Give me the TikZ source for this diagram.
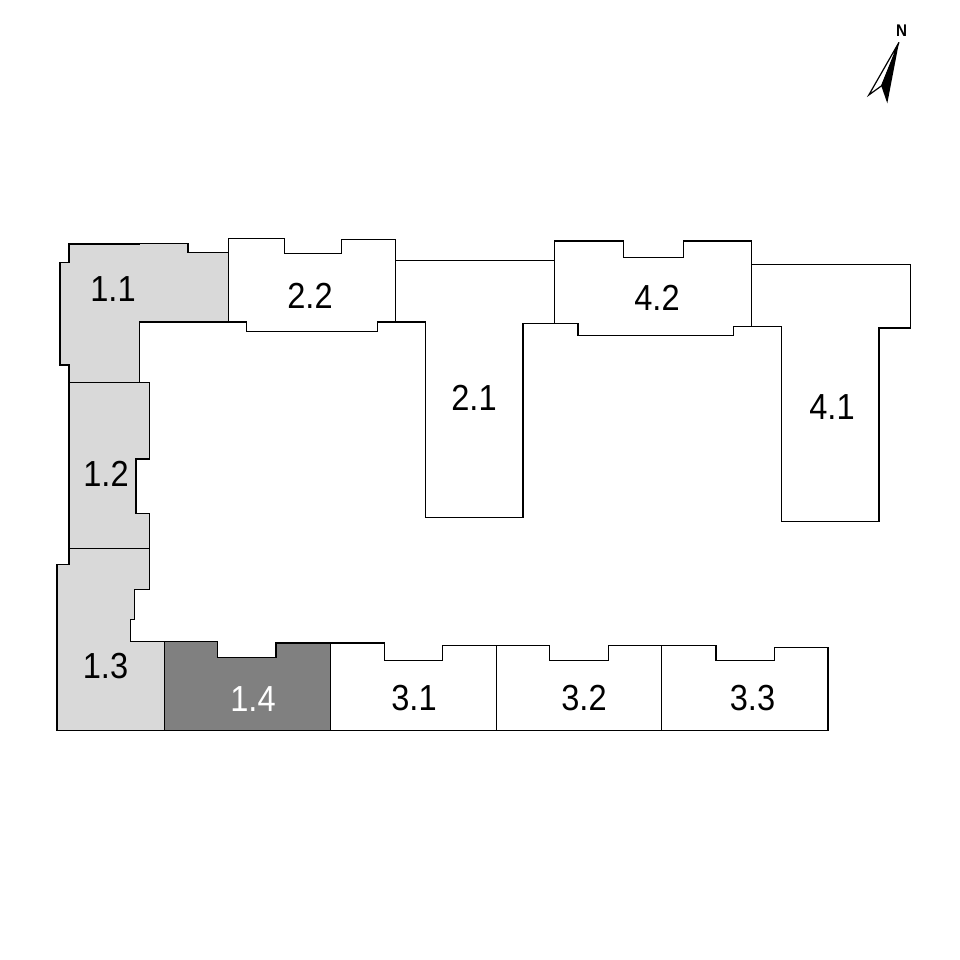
\documentclass[tikz,border=0pt]{standalone}
\usepackage{fontspec}
\setmainfont[FakeStretch=0.9]{Liberation Sans}
\definecolor{unitgrey}{RGB}{217,217,217}
\definecolor{unitdark}{RGB}{128,128,128}
\tikzset{
  unit/.style={draw=black,line width=0.016cm,line join=miter,fill=white},
  unitlabel/.style={font=\fontsize{10.3pt}{12pt}\selectfont,inner sep=0pt}
}
\begin{document}
\begin{tikzpicture}[x=0.01cm,y=-0.01cm]
\useasboundingbox (0,0) rectangle (960,960);

% Drawing unit 1.1
\draw [unit,fill=unitgrey] (69.3,244) -- (138.7,244) -- (138.7,243.3) -- (188,243.3) -- (188,252.3) -- (228.3,252.3) -- (228.3,322) -- (139.3,322) -- (139.3,382.3) -- (69.3,382.3) -- (69.3,365) -- (60.3,365) -- (60.3,262.3) -- (69.3,262.3) -- cycle;%

% Drawing unit 1.2
\draw [unit,fill=unitgrey] (69.3,382.3) -- (149.5,382.3) -- (149.5,459) -- (135.7,459) -- (135.7,513.3) -- (149.5,513.3) -- (149.5,548.3) -- (69.3,548.3) -- cycle;%

% Drawing unit 1.3
\draw [unit,fill=unitgrey] (69.3,548.3) -- (149.5,548.3) -- (149.5,589.3) -- (134.3,589.3) -- (134.3,619.3) -- (130.3,619.3) -- (130.3,641.3) -- (164.3,641.3) -- (164.3,730.3) -- (57.3,730.3) -- (57.3,564.3) -- (69.3,564.3) -- cycle;%

% Drawing unit 1.4
\draw [unit,fill=unitdark] (164.3,641.5) -- (217.3,641.5) -- (217.3,657.3) -- (275.7,657.3) -- (275.7,642.7) -- (330.3,642.7) -- (330.3,730.3) -- (164.3,730.3) -- cycle;%

% Drawing units 3.1, 3.2 and 3.3
\draw [unit] (330.3,642.7) -- (384.3,642.7) -- (384.3,660.3) -- (442.3,660.3) -- (442.3,645.3) -- (496.3,645.3) -- (496.3,730.3) -- (330.3,730.3) -- cycle;%
\draw [unit] (496.3,645.3) -- (549.3,645.3) -- (549.3,660.3) -- (608.3,660.3) -- (608.3,645.3) -- (661.3,645.3) -- (661.3,730.3) -- (496.3,730.3) -- cycle;%
\draw [unit] (661.3,645.3) -- (715.7,645.3) -- (715.7,660.3) -- (774.3,660.3) -- (774.3,647.3) -- (827.7,647.3) -- (827.7,730.3) -- (661.3,730.3) -- cycle;%

% Drawing units 2.1 and 2.2
\draw [unit] (395.3,260.3) -- (554.3,260.3) -- (554.3,323.3) -- (523,323.3) -- (523,517.5) -- (425.3,517.5) -- (425.3,322) -- (395.3,322) -- cycle;%
\draw [unit] (228.3,238.3) -- (284.3,238.3) -- (284.3,253.3) -- (341.3,253.3) -- (341.3,239.3) -- (395.3,239.3) -- (395.3,322) -- (377.3,322) -- (377.3,331.3) -- (246.3,331.3) -- (246.3,322) -- (228.3,322) -- cycle;%

% Drawing units 4.1 and 4.2
\draw [unit] (751.3,264.3) -- (910.5,264.3) -- (910.5,328) -- (879,328) -- (879,521.5) -- (781.5,521.5) -- (781.5,326.3) -- (751.3,326.3) -- cycle;%
\draw [unit] (554.3,241) -- (623.3,241) -- (623.3,257.3) -- (683.3,257.3) -- (683.3,241) -- (751.3,241) -- (751.3,326.3) -- (733.3,326.3) -- (733.3,335.3) -- (577.7,335.3) -- (577.7,323.3) -- (554.3,323.3) -- cycle;%

% Marking the units
\node [unitlabel] (u11) at (113,289) {1.1};
\node [unitlabel] (u12) at (106,474) {1.2};
\node [unitlabel] (u13) at (105.5,666) {1.3};
\node [unitlabel,text=white] (u14) at (253,699) {1.4};
\node [unitlabel] (u31) at (414,698.5) {3.1};
\node [unitlabel] (u32) at (584,698.5) {3.2};
\node [unitlabel] (u33) at (752.5,698.5) {3.3};
\node [unitlabel] (u21) at (474,398) {2.1};
\node [unitlabel] (u22) at (310,296) {2.2};
\node [unitlabel] (u41) at (832,407) {4.1};
\node [unitlabel] (u42) at (657,298) {4.2};

% Drawing north arrow
\draw [line width=0.012cm,fill=white,line join=miter] (899,42.3) -- (868.8,95) -- (881.7,85.7) -- cycle;%
\fill [black] (899,42.3) -- (881.2,85.7) -- (887.3,103.3) -- cycle;%
\node [font=\fontsize{4.8pt}{5pt}\selectfont\bfseries,inner sep=0pt] (north) at (901.7,30.7) {N};
\end{tikzpicture}
\end{document}
